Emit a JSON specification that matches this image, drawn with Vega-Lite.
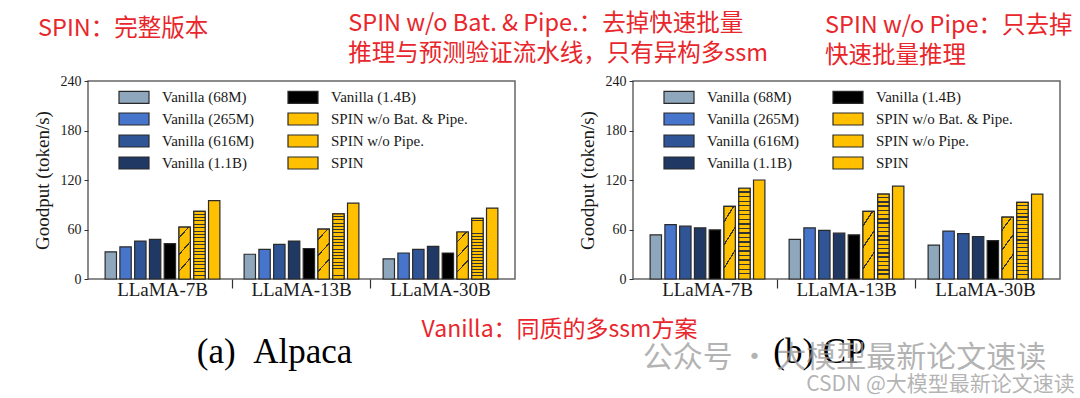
{
  "$schema": "https://vega.github.io/schema/vega-lite/v6.json",
  "padding": {"left": 32, "top": 12, "right": 0, "bottom": 0},
  "background": "white",
  "config": {
    "view": {"stroke": "#666666", "strokeWidth": 1.5},
    "axis": {"grid": false, "domain": false, "labelFont": "Liberation Serif", "titleFont": "Liberation Serif", "labelColor": "#1a1a1a", "titleColor": "#1a1a1a", "titleFontWeight": "normal", "tickColor": "#333333"},
    "title": {"font": "Noto Sans CJK SC", "fontSize": 23.5, "fontWeight": "normal", "color": "#e8262b", "lineHeight": 30},
    "legend": {"orient": "none", "legendX": 35, "legendY": 5, "columns": 2, "title": null, "symbolType": "M-1.5,-0.6H1.5V0.6H-1.5Z", "symbolSize": 400, "symbolStrokeColor": "#2a2a2a", "symbolStrokeWidth": 1.2, "symbolOpacity": 1, "labelFont": "Liberation Serif", "labelFontSize": 15, "labelColor": "#1a1a1a", "labelOffset": 17, "rowPadding": 2, "columnPadding": 30, "padding": 0}
  },
  "datasets": {
    "goodput": [
      {"dataset": "Alpaca", "model": "LLaMA-7B", "method": "Vanilla (68M)", "goodput": 33},
      {"dataset": "Alpaca", "model": "LLaMA-7B", "method": "Vanilla (265M)", "goodput": 39},
      {"dataset": "Alpaca", "model": "LLaMA-7B", "method": "Vanilla (616M)", "goodput": 46},
      {"dataset": "Alpaca", "model": "LLaMA-7B", "method": "Vanilla (1.1B)", "goodput": 48},
      {"dataset": "Alpaca", "model": "LLaMA-7B", "method": "Vanilla (1.4B)", "goodput": 43},
      {"dataset": "Alpaca", "model": "LLaMA-7B", "method": "SPIN w/o Bat. & Pipe.", "goodput": 63},
      {"dataset": "Alpaca", "model": "LLaMA-7B", "method": "SPIN w/o Pipe.", "goodput": 82},
      {"dataset": "Alpaca", "model": "LLaMA-7B", "method": "SPIN", "goodput": 95},
      {"dataset": "Alpaca", "model": "LLaMA-13B", "method": "Vanilla (68M)", "goodput": 30},
      {"dataset": "Alpaca", "model": "LLaMA-13B", "method": "Vanilla (265M)", "goodput": 36},
      {"dataset": "Alpaca", "model": "LLaMA-13B", "method": "Vanilla (616M)", "goodput": 42},
      {"dataset": "Alpaca", "model": "LLaMA-13B", "method": "Vanilla (1.1B)", "goodput": 46},
      {"dataset": "Alpaca", "model": "LLaMA-13B", "method": "Vanilla (1.4B)", "goodput": 37},
      {"dataset": "Alpaca", "model": "LLaMA-13B", "method": "SPIN w/o Bat. & Pipe.", "goodput": 60.5},
      {"dataset": "Alpaca", "model": "LLaMA-13B", "method": "SPIN w/o Pipe.", "goodput": 79},
      {"dataset": "Alpaca", "model": "LLaMA-13B", "method": "SPIN", "goodput": 92},
      {"dataset": "Alpaca", "model": "LLaMA-30B", "method": "Vanilla (68M)", "goodput": 24.5},
      {"dataset": "Alpaca", "model": "LLaMA-30B", "method": "Vanilla (265M)", "goodput": 31.5},
      {"dataset": "Alpaca", "model": "LLaMA-30B", "method": "Vanilla (616M)", "goodput": 36},
      {"dataset": "Alpaca", "model": "LLaMA-30B", "method": "Vanilla (1.1B)", "goodput": 39.5},
      {"dataset": "Alpaca", "model": "LLaMA-30B", "method": "Vanilla (1.4B)", "goodput": 31.5},
      {"dataset": "Alpaca", "model": "LLaMA-30B", "method": "SPIN w/o Bat. & Pipe.", "goodput": 57},
      {"dataset": "Alpaca", "model": "LLaMA-30B", "method": "SPIN w/o Pipe.", "goodput": 73.5},
      {"dataset": "Alpaca", "model": "LLaMA-30B", "method": "SPIN", "goodput": 86},
      {"dataset": "CP", "model": "LLaMA-7B", "method": "Vanilla (68M)", "goodput": 53.5},
      {"dataset": "CP", "model": "LLaMA-7B", "method": "Vanilla (265M)", "goodput": 66},
      {"dataset": "CP", "model": "LLaMA-7B", "method": "Vanilla (616M)", "goodput": 64},
      {"dataset": "CP", "model": "LLaMA-7B", "method": "Vanilla (1.1B)", "goodput": 62},
      {"dataset": "CP", "model": "LLaMA-7B", "method": "Vanilla (1.4B)", "goodput": 59.5},
      {"dataset": "CP", "model": "LLaMA-7B", "method": "SPIN w/o Bat. & Pipe.", "goodput": 88},
      {"dataset": "CP", "model": "LLaMA-7B", "method": "SPIN w/o Pipe.", "goodput": 110},
      {"dataset": "CP", "model": "LLaMA-7B", "method": "SPIN", "goodput": 120},
      {"dataset": "CP", "model": "LLaMA-13B", "method": "Vanilla (68M)", "goodput": 48},
      {"dataset": "CP", "model": "LLaMA-13B", "method": "Vanilla (265M)", "goodput": 62},
      {"dataset": "CP", "model": "LLaMA-13B", "method": "Vanilla (616M)", "goodput": 59},
      {"dataset": "CP", "model": "LLaMA-13B", "method": "Vanilla (1.1B)", "goodput": 55.5},
      {"dataset": "CP", "model": "LLaMA-13B", "method": "Vanilla (1.4B)", "goodput": 53.5},
      {"dataset": "CP", "model": "LLaMA-13B", "method": "SPIN w/o Bat. & Pipe.", "goodput": 82},
      {"dataset": "CP", "model": "LLaMA-13B", "method": "SPIN w/o Pipe.", "goodput": 103},
      {"dataset": "CP", "model": "LLaMA-13B", "method": "SPIN", "goodput": 112.5},
      {"dataset": "CP", "model": "LLaMA-30B", "method": "Vanilla (68M)", "goodput": 41},
      {"dataset": "CP", "model": "LLaMA-30B", "method": "Vanilla (265M)", "goodput": 58},
      {"dataset": "CP", "model": "LLaMA-30B", "method": "Vanilla (616M)", "goodput": 55},
      {"dataset": "CP", "model": "LLaMA-30B", "method": "Vanilla (1.1B)", "goodput": 51.5},
      {"dataset": "CP", "model": "LLaMA-30B", "method": "Vanilla (1.4B)", "goodput": 46.5},
      {"dataset": "CP", "model": "LLaMA-30B", "method": "SPIN w/o Bat. & Pipe.", "goodput": 75},
      {"dataset": "CP", "model": "LLaMA-30B", "method": "SPIN w/o Pipe.", "goodput": 93},
      {"dataset": "CP", "model": "LLaMA-30B", "method": "SPIN", "goodput": 103}
    ]
  },
  "title": {"text": ["SPIN w/o Bat. & Pipe.：去掉快速批量", "推理与预测验证流水线，只有异构多ssm"], "anchor": "start", "frame": "bounds", "dx": 316, "offset": -53},
  "spacing": 118,
  "bounds": "flush",
  "resolve": {"scale": {"color": "independent", "xOffset": "independent"}, "legend": {"color": "independent"}},
  "hconcat": [
    {
      "width": 427, "height": 198,
      "title": {"text": "SPIN：完整版本", "anchor": "start", "frame": "group", "dx": -50, "offset": 34},
      "data": {"name": "goodput"},
      "transform": [{"filter": "datum.dataset === 'Alpaca'"}],
      "resolve": {"axis": {"x": "independent"}},
      "layer": [
        {
          "mark": {"type": "bar", "stroke": "#2a2a2a", "strokeWidth": 1.2},
          "encoding": {
            "x": {"field": "model", "type": "nominal", "scale": {"domain": ["LLaMA-7B", "LLaMA-13B", "LLaMA-30B"], "paddingInner": 0, "paddingOuter": 0.036},
                  "axis": {"orient": "bottom", "labelFontSize": 19, "labelAngle": 0, "ticks": false, "tickSize": 0, "labelPadding": 1, "title": "(a)\u2002Alpaca", "titleFontSize": 35, "titleX": 186, "titleY": 72, "titleAlign": "center", "titleBaseline": "middle", "titleColor": "#000000"}},
            "xOffset": {"field": "method", "type": "nominal", "scale": {"domain": ["Vanilla (68M)", "Vanilla (265M)", "Vanilla (616M)", "Vanilla (1.1B)", "Vanilla (1.4B)", "SPIN w/o Bat. & Pipe.", "SPIN w/o Pipe.", "SPIN"], "paddingInner": 0.23, "paddingOuter": 0.82}},
            "y": {"field": "goodput", "type": "quantitative", "scale": {"domain": [0, 240], "nice": false}, "axis": {"title": "Goodput (token/s)", "values": [0, 60, 120, 180, 240], "labelFontSize": 14, "titleFontSize": 19, "tickSize": 4, "labelPadding": 3, "titlePadding": 8}},
            "color": {"field": "method", "type": "nominal",
                      "scale": {"domain": ["Vanilla (68M)", "Vanilla (265M)", "Vanilla (616M)", "Vanilla (1.1B)", "Vanilla (1.4B)", "SPIN w/o Bat. & Pipe.", "SPIN w/o Pipe.", "SPIN"],
                                "range": ["#8fa7bd", "#4775cc", "#2f5597", "#1f3864", "#000000", "#ffc000", "#ffc000", "#ffc000"]}}
          }
        },
        {
          "transform": [{"filter": "datum.method === 'SPIN w/o Bat. & Pipe.'"}],
          "mark": {"type": "bar", "stroke": "#2a2a2a", "strokeWidth": 1.2, "fill": {"gradient": "linear", "x1": 0, "y1": 0, "x2": 0.25, "y2": 1, "stops": [{"offset": 0, "color": "#ffc000"}, {"offset": 0.185, "color": "#ffc000"}, {"offset": 0.185, "color": "#333333"}, {"offset": 0.215, "color": "#333333"}, {"offset": 0.215, "color": "#ffc000"}, {"offset": 0.485, "color": "#ffc000"}, {"offset": 0.485, "color": "#333333"}, {"offset": 0.515, "color": "#333333"}, {"offset": 0.515, "color": "#ffc000"}, {"offset": 0.785, "color": "#ffc000"}, {"offset": 0.785, "color": "#333333"}, {"offset": 0.815, "color": "#333333"}, {"offset": 0.815, "color": "#ffc000"}, {"offset": 1, "color": "#ffc000"}]}},
          "encoding": {
            "x": {"field": "model", "type": "nominal", "scale": {"domain": ["LLaMA-7B", "LLaMA-13B", "LLaMA-30B"]},
                  "axis": {"orient": "bottom", "bandPosition": 0, "values": ["LLaMA-13B", "LLaMA-30B"], "labels": false, "ticks": true, "tickSize": 9, "tickWidth": 1.2, "title": "Vanilla：同质的多ssm方案", "titleFont": "Noto Sans CJK SC", "titleFontSize": 23, "titleColor": "#e8262b", "titleX": 471, "titleY": 50, "titleAlign": "center", "titleBaseline": "middle"}},
            "xOffset": {"field": "method", "type": "nominal", "scale": {"domain": ["Vanilla (68M)", "Vanilla (265M)", "Vanilla (616M)", "Vanilla (1.1B)", "Vanilla (1.4B)", "SPIN w/o Bat. & Pipe.", "SPIN w/o Pipe.", "SPIN"]}},
            "y": {"field": "goodput", "type": "quantitative"}
          }
        },
        {
          "transform": [{"filter": "datum.method === 'SPIN w/o Pipe.'"}],
          "mark": {"type": "bar", "stroke": "#2a2a2a", "strokeWidth": 1.2, "fill": {"gradient": "linear", "x1": 0, "y1": 0, "x2": 0, "y2": 1, "stops": [
            {"offset": 0, "color": "#ffc000"}, {"offset": 0.035, "color": "#ffc000"}, {"offset": 0.035, "color": "#333333"}, {"offset": 0.05, "color": "#333333"},
            {"offset": 0.05, "color": "#ffc000"}, {"offset": 0.085, "color": "#ffc000"}, {"offset": 0.085, "color": "#333333"}, {"offset": 0.1, "color": "#333333"},
            {"offset": 0.1, "color": "#ffc000"}, {"offset": 0.135, "color": "#ffc000"}, {"offset": 0.135, "color": "#333333"}, {"offset": 0.15, "color": "#333333"},
            {"offset": 0.15, "color": "#ffc000"}, {"offset": 0.185, "color": "#ffc000"}, {"offset": 0.185, "color": "#333333"}, {"offset": 0.2, "color": "#333333"},
            {"offset": 0.2, "color": "#ffc000"}, {"offset": 0.235, "color": "#ffc000"}, {"offset": 0.235, "color": "#333333"}, {"offset": 0.25, "color": "#333333"},
            {"offset": 0.25, "color": "#ffc000"}, {"offset": 0.285, "color": "#ffc000"}, {"offset": 0.285, "color": "#333333"}, {"offset": 0.3, "color": "#333333"},
            {"offset": 0.3, "color": "#ffc000"}, {"offset": 0.335, "color": "#ffc000"}, {"offset": 0.335, "color": "#333333"}, {"offset": 0.35, "color": "#333333"},
            {"offset": 0.35, "color": "#ffc000"}, {"offset": 0.385, "color": "#ffc000"}, {"offset": 0.385, "color": "#333333"}, {"offset": 0.4, "color": "#333333"},
            {"offset": 0.4, "color": "#ffc000"}, {"offset": 0.435, "color": "#ffc000"}, {"offset": 0.435, "color": "#333333"}, {"offset": 0.45, "color": "#333333"},
            {"offset": 0.45, "color": "#ffc000"}, {"offset": 0.485, "color": "#ffc000"}, {"offset": 0.485, "color": "#333333"}, {"offset": 0.5, "color": "#333333"},
            {"offset": 0.5, "color": "#ffc000"}, {"offset": 0.535, "color": "#ffc000"}, {"offset": 0.535, "color": "#333333"}, {"offset": 0.55, "color": "#333333"},
            {"offset": 0.55, "color": "#ffc000"}, {"offset": 0.585, "color": "#ffc000"}, {"offset": 0.585, "color": "#333333"}, {"offset": 0.6, "color": "#333333"},
            {"offset": 0.6, "color": "#ffc000"}, {"offset": 0.635, "color": "#ffc000"}, {"offset": 0.635, "color": "#333333"}, {"offset": 0.65, "color": "#333333"},
            {"offset": 0.65, "color": "#ffc000"}, {"offset": 0.685, "color": "#ffc000"}, {"offset": 0.685, "color": "#333333"}, {"offset": 0.7, "color": "#333333"},
            {"offset": 0.7, "color": "#ffc000"}, {"offset": 0.735, "color": "#ffc000"}, {"offset": 0.735, "color": "#333333"}, {"offset": 0.75, "color": "#333333"},
            {"offset": 0.75, "color": "#ffc000"}, {"offset": 0.785, "color": "#ffc000"}, {"offset": 0.785, "color": "#333333"}, {"offset": 0.8, "color": "#333333"},
            {"offset": 0.8, "color": "#ffc000"}, {"offset": 0.835, "color": "#ffc000"}, {"offset": 0.835, "color": "#333333"}, {"offset": 0.85, "color": "#333333"},
            {"offset": 0.85, "color": "#ffc000"}, {"offset": 0.885, "color": "#ffc000"}, {"offset": 0.885, "color": "#333333"}, {"offset": 0.9, "color": "#333333"},
            {"offset": 0.9, "color": "#ffc000"}, {"offset": 0.935, "color": "#ffc000"}, {"offset": 0.935, "color": "#333333"}, {"offset": 0.95, "color": "#333333"},
            {"offset": 0.95, "color": "#ffc000"}, {"offset": 1, "color": "#ffc000"}]}},
          "encoding": {
            "x": {"field": "model", "type": "nominal", "scale": {"domain": ["LLaMA-7B", "LLaMA-13B", "LLaMA-30B"]}, "axis": null},
            "xOffset": {"field": "method", "type": "nominal", "scale": {"domain": ["Vanilla (68M)", "Vanilla (265M)", "Vanilla (616M)", "Vanilla (1.1B)", "Vanilla (1.4B)", "SPIN w/o Bat. & Pipe.", "SPIN w/o Pipe.", "SPIN"]}},
            "y": {"field": "goodput", "type": "quantitative"}
          }
        }
      ]
    },
    {
      "width": 427, "height": 198,
      "title": {"text": ["SPIN w/o Pipe：只去掉", "快速批量推理"], "anchor": "start", "frame": "group", "dx": 192, "offset": 7},
      "data": {"name": "goodput"},
      "transform": [{"filter": "datum.dataset === 'CP'"}],
      "resolve": {"axis": {"x": "independent", "y": "independent"}},
      "layer": [
        {
          "mark": {"type": "bar", "stroke": "#2a2a2a", "strokeWidth": 1.2},
          "encoding": {
            "x": {"field": "model", "type": "nominal", "scale": {"domain": ["LLaMA-7B", "LLaMA-13B", "LLaMA-30B"], "paddingInner": 0, "paddingOuter": 0.036},
                  "axis": {"orient": "bottom", "labelFontSize": 19, "labelAngle": 0, "ticks": false, "tickSize": 0, "labelPadding": 1, "title": "(b) CP", "titleFontSize": 35, "titleX": 186, "titleY": 72, "titleAlign": "center", "titleBaseline": "middle", "titleColor": "#000000"}},
            "xOffset": {"field": "method", "type": "nominal", "scale": {"domain": ["Vanilla (68M)", "Vanilla (265M)", "Vanilla (616M)", "Vanilla (1.1B)", "Vanilla (1.4B)", "SPIN w/o Bat. & Pipe.", "SPIN w/o Pipe.", "SPIN"], "paddingInner": 0.23, "paddingOuter": 0.82}},
            "y": {"field": "goodput", "type": "quantitative", "scale": {"domain": [0, 240], "nice": false}, "axis": {"orient": "left", "title": "Goodput (token/s)", "values": [0, 60, 120, 180, 240], "labelFontSize": 14, "titleFontSize": 19, "tickSize": 4, "labelPadding": 3, "titlePadding": 8}},
            "color": {"field": "method", "type": "nominal",
                      "scale": {"domain": ["Vanilla (68M)", "Vanilla (265M)", "Vanilla (616M)", "Vanilla (1.1B)", "Vanilla (1.4B)", "SPIN w/o Bat. & Pipe.", "SPIN w/o Pipe.", "SPIN"],
                                "range": ["#8fa7bd", "#4775cc", "#2f5597", "#1f3864", "#000000", "#ffc000", "#ffc000", "#ffc000"]}}
          }
        },
        {
          "transform": [{"filter": "datum.method === 'SPIN w/o Bat. & Pipe.'"}],
          "mark": {"type": "bar", "stroke": "#2a2a2a", "strokeWidth": 1.2, "fill": {"gradient": "linear", "x1": 0, "y1": 0, "x2": 0.25, "y2": 1, "stops": [{"offset": 0, "color": "#ffc000"}, {"offset": 0.185, "color": "#ffc000"}, {"offset": 0.185, "color": "#333333"}, {"offset": 0.215, "color": "#333333"}, {"offset": 0.215, "color": "#ffc000"}, {"offset": 0.485, "color": "#ffc000"}, {"offset": 0.485, "color": "#333333"}, {"offset": 0.515, "color": "#333333"}, {"offset": 0.515, "color": "#ffc000"}, {"offset": 0.785, "color": "#ffc000"}, {"offset": 0.785, "color": "#333333"}, {"offset": 0.815, "color": "#333333"}, {"offset": 0.815, "color": "#ffc000"}, {"offset": 1, "color": "#ffc000"}]}},
          "encoding": {
            "x": {"field": "model", "type": "nominal", "scale": {"domain": ["LLaMA-7B", "LLaMA-13B", "LLaMA-30B"]},
                  "axis": {"orient": "bottom", "bandPosition": 0, "values": ["LLaMA-13B", "LLaMA-30B"], "labels": false, "ticks": true, "tickSize": 9, "tickWidth": 1.2, "title": "公众号 · 大模型最新论文速读", "titleFont": "Noto Sans CJK SC", "titleFontSize": 30, "titleColor": "#9a9a9a", "titleOpacity": 0.75, "titleX": 211, "titleY": 78, "titleAlign": "center", "titleBaseline": "middle"}},
            "xOffset": {"field": "method", "type": "nominal", "scale": {"domain": ["Vanilla (68M)", "Vanilla (265M)", "Vanilla (616M)", "Vanilla (1.1B)", "Vanilla (1.4B)", "SPIN w/o Bat. & Pipe.", "SPIN w/o Pipe.", "SPIN"]}},
            "y": {"field": "goodput", "type": "quantitative", "scale": {"domain": [0, 240], "nice": false},
                  "axis": {"orient": "right", "labels": false, "ticks": false, "title": "CSDN @大模型最新论文速读", "titleAngle": 0, "titleX": -120, "titleY": 303, "titleAlign": "center", "titleBaseline": "middle", "titleFont": "Noto Sans CJK SC", "titleFontSize": 21, "titleColor": "#9a9a9a", "titleOpacity": 0.75}}
          }
        },
        {
          "transform": [{"filter": "datum.method === 'SPIN w/o Pipe.'"}],
          "mark": {"type": "bar", "stroke": "#2a2a2a", "strokeWidth": 1.2, "fill": {"gradient": "linear", "x1": 0, "y1": 0, "x2": 0, "y2": 1, "stops": [
            {"offset": 0, "color": "#ffc000"}, {"offset": 0.035, "color": "#ffc000"}, {"offset": 0.035, "color": "#333333"}, {"offset": 0.05, "color": "#333333"},
            {"offset": 0.05, "color": "#ffc000"}, {"offset": 0.085, "color": "#ffc000"}, {"offset": 0.085, "color": "#333333"}, {"offset": 0.1, "color": "#333333"},
            {"offset": 0.1, "color": "#ffc000"}, {"offset": 0.135, "color": "#ffc000"}, {"offset": 0.135, "color": "#333333"}, {"offset": 0.15, "color": "#333333"},
            {"offset": 0.15, "color": "#ffc000"}, {"offset": 0.185, "color": "#ffc000"}, {"offset": 0.185, "color": "#333333"}, {"offset": 0.2, "color": "#333333"},
            {"offset": 0.2, "color": "#ffc000"}, {"offset": 0.235, "color": "#ffc000"}, {"offset": 0.235, "color": "#333333"}, {"offset": 0.25, "color": "#333333"},
            {"offset": 0.25, "color": "#ffc000"}, {"offset": 0.285, "color": "#ffc000"}, {"offset": 0.285, "color": "#333333"}, {"offset": 0.3, "color": "#333333"},
            {"offset": 0.3, "color": "#ffc000"}, {"offset": 0.335, "color": "#ffc000"}, {"offset": 0.335, "color": "#333333"}, {"offset": 0.35, "color": "#333333"},
            {"offset": 0.35, "color": "#ffc000"}, {"offset": 0.385, "color": "#ffc000"}, {"offset": 0.385, "color": "#333333"}, {"offset": 0.4, "color": "#333333"},
            {"offset": 0.4, "color": "#ffc000"}, {"offset": 0.435, "color": "#ffc000"}, {"offset": 0.435, "color": "#333333"}, {"offset": 0.45, "color": "#333333"},
            {"offset": 0.45, "color": "#ffc000"}, {"offset": 0.485, "color": "#ffc000"}, {"offset": 0.485, "color": "#333333"}, {"offset": 0.5, "color": "#333333"},
            {"offset": 0.5, "color": "#ffc000"}, {"offset": 0.535, "color": "#ffc000"}, {"offset": 0.535, "color": "#333333"}, {"offset": 0.55, "color": "#333333"},
            {"offset": 0.55, "color": "#ffc000"}, {"offset": 0.585, "color": "#ffc000"}, {"offset": 0.585, "color": "#333333"}, {"offset": 0.6, "color": "#333333"},
            {"offset": 0.6, "color": "#ffc000"}, {"offset": 0.635, "color": "#ffc000"}, {"offset": 0.635, "color": "#333333"}, {"offset": 0.65, "color": "#333333"},
            {"offset": 0.65, "color": "#ffc000"}, {"offset": 0.685, "color": "#ffc000"}, {"offset": 0.685, "color": "#333333"}, {"offset": 0.7, "color": "#333333"},
            {"offset": 0.7, "color": "#ffc000"}, {"offset": 0.735, "color": "#ffc000"}, {"offset": 0.735, "color": "#333333"}, {"offset": 0.75, "color": "#333333"},
            {"offset": 0.75, "color": "#ffc000"}, {"offset": 0.785, "color": "#ffc000"}, {"offset": 0.785, "color": "#333333"}, {"offset": 0.8, "color": "#333333"},
            {"offset": 0.8, "color": "#ffc000"}, {"offset": 0.835, "color": "#ffc000"}, {"offset": 0.835, "color": "#333333"}, {"offset": 0.85, "color": "#333333"},
            {"offset": 0.85, "color": "#ffc000"}, {"offset": 0.885, "color": "#ffc000"}, {"offset": 0.885, "color": "#333333"}, {"offset": 0.9, "color": "#333333"},
            {"offset": 0.9, "color": "#ffc000"}, {"offset": 0.935, "color": "#ffc000"}, {"offset": 0.935, "color": "#333333"}, {"offset": 0.95, "color": "#333333"},
            {"offset": 0.95, "color": "#ffc000"}, {"offset": 1, "color": "#ffc000"}]}},
          "encoding": {
            "x": {"field": "model", "type": "nominal", "scale": {"domain": ["LLaMA-7B", "LLaMA-13B", "LLaMA-30B"]}, "axis": null},
            "xOffset": {"field": "method", "type": "nominal", "scale": {"domain": ["Vanilla (68M)", "Vanilla (265M)", "Vanilla (616M)", "Vanilla (1.1B)", "Vanilla (1.4B)", "SPIN w/o Bat. & Pipe.", "SPIN w/o Pipe.", "SPIN"]}},
            "y": {"field": "goodput", "type": "quantitative", "scale": {"domain": [0, 240], "nice": false}, "axis": null}
          }
        }
      ]
    }
  ]
}
